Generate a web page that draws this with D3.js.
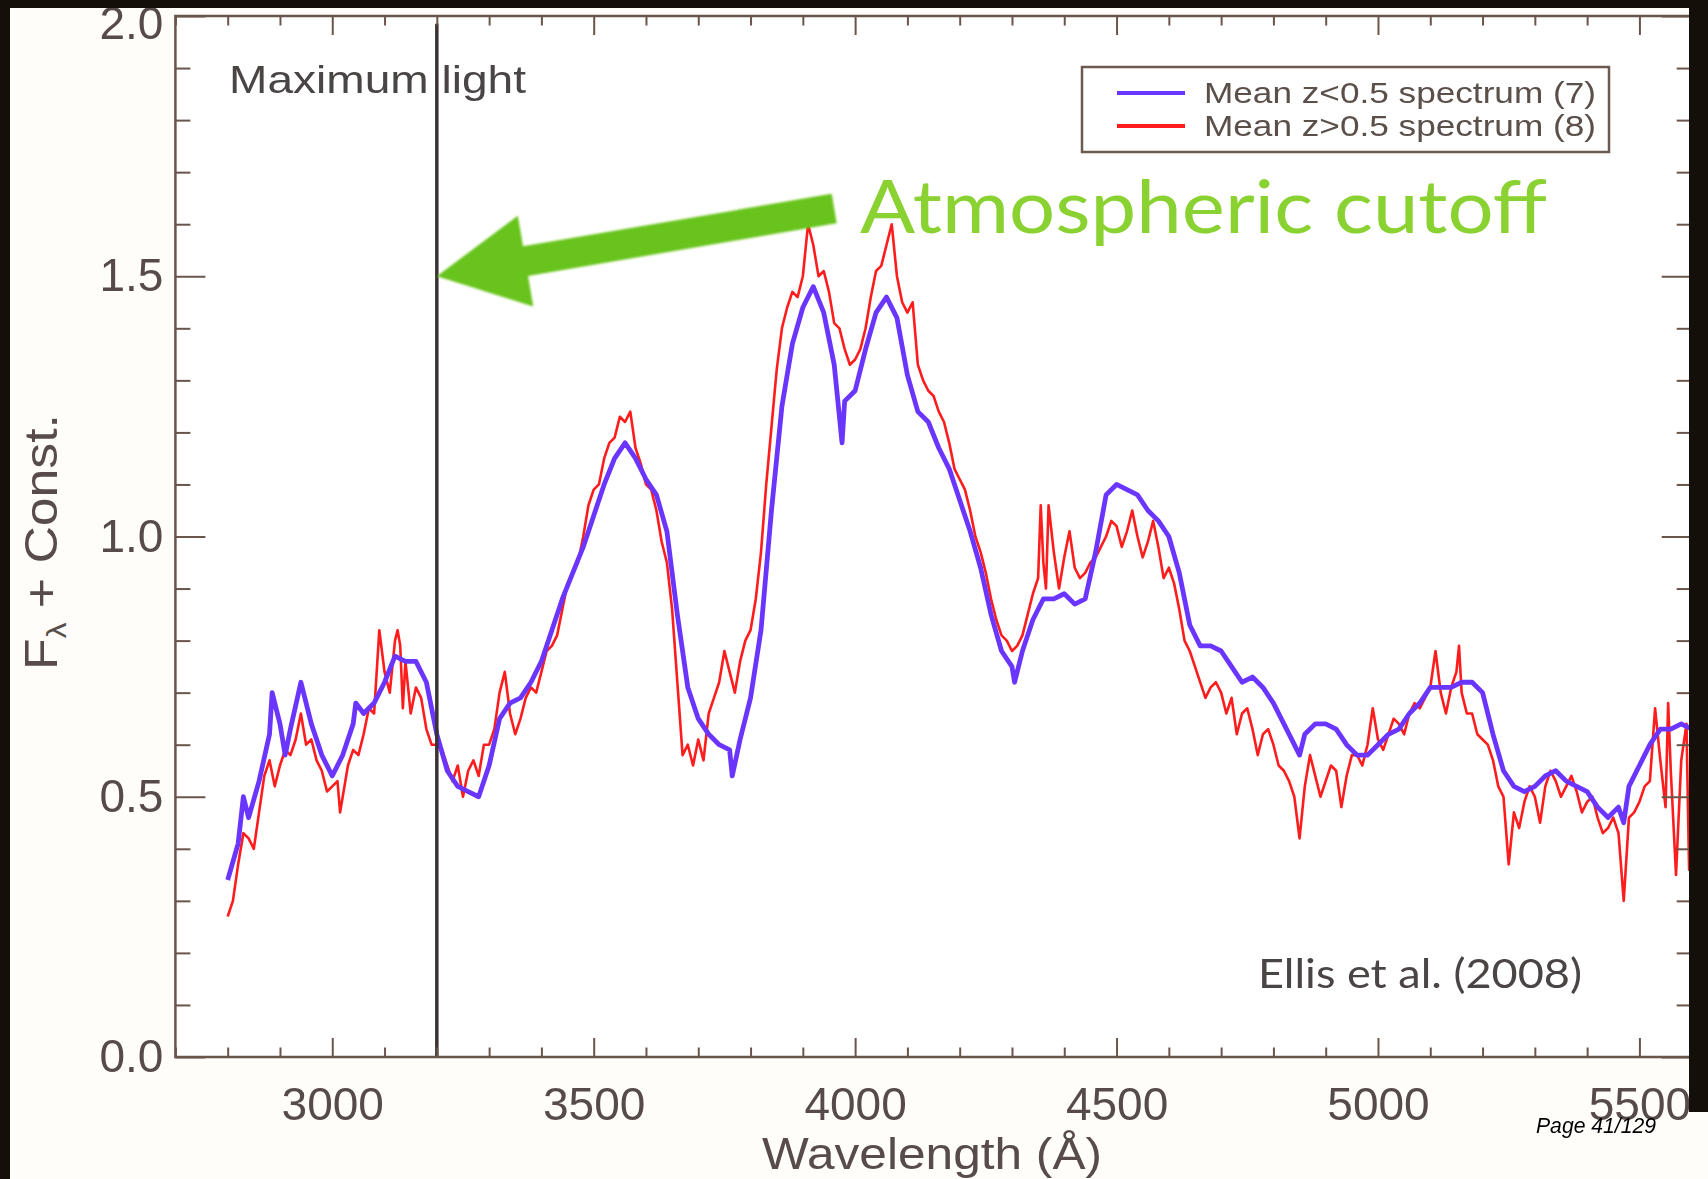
<!DOCTYPE html>
<html>
<head>
<meta charset="utf-8">
<script src="https://cdn.jsdelivr.net/npm/d3@7"></script>
<style>
  body { margin: 0; background: #fffdf9; }
  svg { display: block; }
  text { font-family: "Liberation Sans", Arial, sans-serif; }
</style>
</head>
<body>
<svg width="1708" height="1179"></svg>
<script>
// wavelength grid (Angstrom), 20 A steps
const wavelength = [
  2800,2820,2840,2860,2880,2900,2920,2940,2960,2980,
  3000,3020,3040,3060,3080,3100,3120,3140,3160,3180,
  3200,3220,3240,3260,3280,3300,3320,3340,3360,3380,
  3400,3420,3440,3460,3480,3500,3520,3540,3560,3580,
  3600,3620,3640,3660,3680,3700,3720,3740,3760,3780,
  3800,3820,3840,3860,3880,3900,3920,3940,3960,3980,
  4000,4020,4040,4060,4080,4100,4120,4140,4160,4180,
  4200,4220,4240,4260,4280,4300,4320,4340,4360,4380,
  4400,4420,4440,4460,4480,4500,4520,4540,4560,4580,
  4600,4620,4640,4660,4680,4700,4720,4740,4760,4780,
  4800,4820,4840,4860,4880,4900,4920,4940,4960,4980,
  5000,5020,5040,5060,5080,5100,5120,5140,5160,5180,
  5200,5220,5240,5260,5280,5300,5320,5340,5360,5380,
  5400,5420,5440,5460,5480,5500,5520,5540,5560,5580,
  5600
];

// in-between wavelengths (grid + 10 A), used for the noisier z>0.5 spectrum
const wavelengthMid = [
  2810,2830,2850,2870,2890,2910,2930,2950,2970,2990,
  3010,3030,3050,3070,3090,3110,3130,3150,3170,3190,
  3210,3230,3250,3270,3290,3310,3330,3350,3370,3390,
  3410,3430,3450,3470,3490,3510,3530,3550,3570,3590,
  3610,3630,3650,3670,3690,3710,3730,3750,3770,3790,
  3810,3830,3850,3870,3890,3910,3930,3950,3970,3990,
  4010,4030,4050,4070,4090,4110,4130,4150,4170,4190,
  4210,4230,4250,4270,4290,4310,4330,4350,4370,4390,
  4410,4430,4450,4470,4490,4510,4530,4550,4570,4590,
  4610,4630,4650,4670,4690,4710,4730,4750,4770,4790,
  4810,4830,4850,4870,4890,4910,4930,4950,4970,4990,
  5010,5030,5050,5070,5090,5110,5130,5150,5170,5190,
  5210,5230,5250,5270,5290,5310,5330,5350,5370,5390,
  5410,5430,5450,5470,5490,5510,5530,5550,5570,5590
];

// Mean z<0.5 spectrum (7)
const lowZFlux = [
  0.34,0.41,0.46,0.53,0.62,0.64,0.63,0.72,0.64,0.58,
  0.54,0.58,0.64,0.66,0.68,0.72,0.77,0.76,0.76,0.72,
  0.62,0.55,0.52,0.51,0.50,0.56,0.65,0.68,0.69,0.72,
  0.76,0.82,0.88,0.93,0.98,1.04,1.10,1.15,1.18,1.15,
  1.11,1.08,1.01,0.85,0.71,0.65,0.62,0.60,0.59,0.61,
  0.69,0.82,1.05,1.25,1.37,1.44,1.48,1.43,1.33,1.26,
  1.28,1.36,1.43,1.46,1.42,1.31,1.24,1.22,1.17,1.13,
  1.07,1.01,0.94,0.85,0.78,0.75,0.78,0.84,0.88,0.88,
  0.89,0.87,0.88,0.97,1.08,1.10,1.09,1.08,1.05,1.03,
  1.00,0.93,0.83,0.79,0.79,0.78,0.75,0.72,0.73,0.71,
  0.68,0.64,0.60,0.62,0.64,0.64,0.63,0.60,0.58,0.58,
  0.60,0.62,0.63,0.66,0.68,0.71,0.71,0.71,0.72,0.72,
  0.70,0.62,0.55,0.52,0.51,0.52,0.54,0.55,0.53,0.52,
  0.51,0.48,0.46,0.48,0.52,0.56,0.60,0.63,0.63,0.64,
  0.63
];

// Mean z>0.5 spectrum (8), on the main grid
const highZFlux = [
  0.27,0.37,0.42,0.47,0.57,0.56,0.58,0.66,0.61,0.55,
  0.52,0.50,0.59,0.62,0.66,0.74,0.80,0.76,0.71,0.63,
  0.60,0.56,0.56,0.55,0.54,0.60,0.70,0.66,0.65,0.71,
  0.74,0.79,0.86,0.93,1.00,1.09,1.15,1.19,1.22,1.17,
  1.10,1.05,0.95,0.72,0.60,0.61,0.66,0.72,0.74,0.76,
  0.82,0.97,1.21,1.40,1.47,1.50,1.56,1.51,1.41,1.36,
  1.34,1.40,1.51,1.56,1.50,1.43,1.33,1.28,1.24,1.18,
  1.11,1.05,0.97,0.88,0.81,0.78,0.81,0.89,0.95,0.97,
  0.96,0.94,0.93,0.96,1.00,1.02,1.01,1.00,0.99,0.98,
  0.94,0.86,0.78,0.72,0.71,0.70,0.69,0.66,0.63,0.62,
  0.60,0.55,0.50,0.52,0.54,0.53,0.55,0.54,0.58,0.60,
  0.61,0.62,0.64,0.66,0.67,0.71,0.70,0.71,0.70,0.66,
  0.61,0.57,0.50,0.47,0.49,0.50,0.52,0.53,0.52,0.51,
  0.49,0.46,0.44,0.43,0.46,0.49,0.53,0.57,0.55,0.57,
  0.54
];

// Mean z>0.5 spectrum (8), at the in-between wavelengths
const highZFluxMid = [
  0.30,0.43,0.40,0.54,0.52,0.59,0.61,0.60,0.57,0.51,
  0.53,0.56,0.58,0.67,0.82,0.70,0.79,0.66,0.69,0.60,
  0.59,0.53,0.50,0.57,0.60,0.63,0.74,0.62,0.69,0.70,
  0.78,0.81,0.91,0.95,1.06,1.10,1.18,1.23,1.24,1.14,
  1.09,0.99,0.86,0.58,0.56,0.57,0.69,0.78,0.70,0.80,
  0.88,1.10,1.32,1.44,1.46,1.60,1.50,1.47,1.40,1.33,
  1.36,1.46,1.52,1.60,1.45,1.45,1.30,1.27,1.22,1.13,
  1.09,1.00,0.93,0.84,0.80,0.79,0.85,0.92,1.06,0.90,
  1.01,0.92,0.95,0.98,1.03,0.98,1.05,0.96,1.03,0.92,
  0.91,0.80,0.75,0.69,0.72,0.66,0.62,0.67,0.58,0.63,
  0.56,0.53,0.42,0.58,0.50,0.56,0.48,0.58,0.56,0.67,
  0.59,0.65,0.62,0.68,0.69,0.78,0.66,0.74,0.66,0.62,
  0.60,0.52,0.37,0.44,0.52,0.45,0.55,0.50,0.54,0.47,
  0.50,0.43,0.46,0.30,0.47,0.52,0.67,0.48,0.35,0.64
];

// extra narrow noise spikes [wavelength, flux]
const lowZSpikes = [
  [2830,0.50],[2885,0.70],[2910,0.58],[3045,0.68],[3765,0.54],
  [3975,1.18],[4305,0.72],[4850,0.58],[5470,0.45]
];
const highZSpikes = [
  [3015,0.47],[3125,0.82],[3135,0.67],[4355,1.06],[4365,0.90],
  [5155,0.79],[5165,0.68],[5555,0.68],[5595,0.36]
];

const xMajor = [3000, 3500, 4000, 4500, 5000, 5500];
const xMinor = [2700,2800,2900,3100,3200,3300,3400,3600,3700,3800,3900,
                4100,4200,4300,4400,4600,4700,4800,4900,5100,5200,5300,5400,5600];
const yMajor = [0, 0.5, 1.0, 1.5, 2.0];
const yMinor = [0.1,0.2,0.3,0.4,0.6,0.7,0.8,0.9,1.1,1.2,1.3,1.4,1.6,1.7,1.8,1.9];

const legendLabels = ["Mean z<0.5 spectrum (7)", "Mean z>0.5 spectrum (8)"];
const seriesColors = ["#6a36ff", "#ff1c1c"];

const svg = d3.select("svg");
const x = d3.scaleLinear().domain([2700, 5600]).range([175.4, 1691.7]);
const y = d3.scaleLinear().domain([0, 2]).range([1057, 16]);
const axisColor = "#6a544c";
const labelColor = "#574c4a";

const defs = svg.append("defs");
defs.append("filter").attr("id", "soft")
  .append("feGaussianBlur").attr("stdDeviation", 0.6);
defs.append("filter").attr("id", "softer")
  .append("feGaussianBlur").attr("stdDeviation", 1.3);

// plot area
svg.append("rect")
  .attr("x", x(2700)).attr("y", y(2))
  .attr("width", x(5600) - x(2700)).attr("height", y(0) - y(2))
  .attr("fill", "#ffffff");

// spectra
function series(waves, fluxes, spikes) {
  let pts = [];
  waves.forEach((w, k) => {
    pts = pts.concat(w.map((v, i) => [v, fluxes[k][i]]));
  });
  return pts.concat(spikes).sort((a, b) => a[0] - b[0]);
}
const line = d3.line().x(d => x(d[0])).y(d => y(d[1]));

const data = svg.append("g").attr("filter", "url(#soft)");
data.append("path")
  .attr("d", line(series([wavelength, wavelengthMid], [highZFlux, highZFluxMid], highZSpikes)))
  .attr("fill", "none").attr("stroke", seriesColors[1])
  .attr("stroke-width", 2.6).attr("stroke-linejoin", "round");
data.append("path")
  .attr("d", line(series([wavelength], [lowZFlux], lowZSpikes)))
  .attr("fill", "none").attr("stroke", seriesColors[0])
  .attr("stroke-width", 4.8).attr("stroke-linejoin", "round");

// maximum light marker
svg.append("line")
  .attr("x1", x(3200)).attr("x2", x(3200))
  .attr("y1", y(1.985)).attr("y2", y(0))
  .attr("stroke", "#3b3333").attr("stroke-width", 3.5);

// axes (ticks point inward, IDL style)
function styleAxis(g) {
  g.select(".domain").remove();
  g.selectAll(".tick line").attr("stroke", axisColor).attr("stroke-width", 2);
  g.selectAll(".tick text")
    .attr("fill", labelColor)
    .style("font-size", "46px")
    .style("font-family", "'Liberation Sans', Arial, sans-serif");
}
const axes = svg.append("g").attr("filter", "url(#soft)");
axes.append("g").attr("transform", `translate(0,${y(0)})`)
  .call(d3.axisBottom(x).tickValues(xMajor).tickSize(-19).tickPadding(30).tickFormat(d3.format("d")))
  .call(styleAxis);
axes.append("g").attr("transform", `translate(0,${y(0)})`)
  .call(d3.axisBottom(x).tickValues(xMinor).tickSize(-9.5).tickFormat(""))
  .call(styleAxis);
axes.append("g").attr("transform", `translate(0,${y(2)})`)
  .call(d3.axisTop(x).tickValues(xMajor).tickSize(-19).tickFormat(""))
  .call(styleAxis);
axes.append("g").attr("transform", `translate(0,${y(2)})`)
  .call(d3.axisTop(x).tickValues(xMinor).tickSize(-9.5).tickFormat(""))
  .call(styleAxis);
axes.append("g").attr("transform", `translate(${x(2700)},0)`)
  .call(d3.axisLeft(y).tickValues(yMajor).tickSize(-30).tickPadding(12).tickFormat(d3.format(".1f")))
  .call(styleAxis)
  .selectAll(".tick text").filter(d => d === 2).attr("y", 8);
axes.append("g").attr("transform", `translate(${x(2700)},0)`)
  .call(d3.axisLeft(y).tickValues(yMinor).tickSize(-15).tickFormat(""))
  .call(styleAxis);
axes.append("g").attr("transform", `translate(${x(5600)},0)`)
  .call(d3.axisRight(y).tickValues(yMajor).tickSize(-30).tickFormat(""))
  .call(styleAxis);
axes.append("g").attr("transform", `translate(${x(5600)},0)`)
  .call(d3.axisRight(y).tickValues(yMinor).tickSize(-15).tickFormat(""))
  .call(styleAxis);
axes.append("rect")
  .attr("x", x(2700)).attr("y", y(2))
  .attr("width", x(5600) - x(2700)).attr("height", y(0) - y(2))
  .attr("fill", "none").attr("stroke", axisColor).attr("stroke-width", 2.5);

// axis titles
svg.append("text")
  .attr("x", 932).attr("y", 1169)
  .attr("text-anchor", "middle")
  .attr("textLength", 340).attr("lengthAdjust", "spacingAndGlyphs")
  .attr("fill", labelColor).style("font-size", "44px")
  .text("Wavelength (Å)");

const yTitle = svg.append("text")
  .attr("transform", "translate(57,542) rotate(-90)")
  .attr("text-anchor", "middle")
  .attr("textLength", 256).attr("lengthAdjust", "spacingAndGlyphs")
  .attr("fill", labelColor).style("font-size", "46px");
yTitle.append("tspan").text("F");
yTitle.append("tspan").attr("dy", 9).style("font-size", "28px").text("λ");
yTitle.append("tspan").attr("dy", -9).text(" + Const.");

// annotations
svg.append("text")
  .attr("x", 229).attr("y", 93)
  .attr("textLength", 297).attr("lengthAdjust", "spacingAndGlyphs")
  .attr("fill", "#4a4545").style("font-size", "39px")
  .text("Maximum light");

svg.append("text")
  .attr("x", 1258).attr("y", 988)
  .attr("textLength", 324).attr("lengthAdjust", "spacingAndGlyphs")
  .attr("fill", "#4a4444").style("font-family", "Lato, sans-serif").style("font-size", "40px")
  .text("Ellis et al. (2008)");

// legend
const legend = svg.append("g").attr("filter", "url(#soft)");
legend.append("rect")
  .attr("x", 1082).attr("y", 67).attr("width", 527).attr("height", 85)
  .attr("fill", "#ffffff").attr("stroke", "#6b5a50").attr("stroke-width", 2.5);
legendLabels.forEach((label, i) => {
  const ly = 93 + i * 33;
  legend.append("line")
    .attr("x1", 1117).attr("x2", 1185).attr("y1", ly).attr("y2", ly)
    .attr("stroke", seriesColors[i]).attr("stroke-width", 4);
  legend.append("text")
    .attr("x", 1204).attr("y", ly + 10)
    .attr("textLength", 392).attr("lengthAdjust", "spacingAndGlyphs")
    .attr("fill", "#5a4f4a").style("font-size", "30px")
    .text(label);
});

// green arrow pointing at the cutoff
const arrowFrom = [3960, 1.63], arrowTo = [3200, 1.5];
const p0 = [x(arrowFrom[0]), y(arrowFrom[1])];
const p1 = [x(arrowTo[0]), y(arrowTo[1])];
const len = Math.hypot(p1[0] - p0[0], p1[1] - p0[1]);
const ux = (p1[0] - p0[0]) / len, uy = (p1[1] - p0[1]) / len;
const nx = -uy, ny = ux;
const headLen = 90, headHalf = 46, shaftHalf = 15;
const bx = p1[0] - ux * headLen, by = p1[1] - uy * headLen;
const arrowPts = [
  [p0[0] + nx * shaftHalf, p0[1] + ny * shaftHalf],
  [bx + nx * shaftHalf, by + ny * shaftHalf],
  [bx + nx * headHalf, by + ny * headHalf],
  p1,
  [bx - nx * headHalf, by - ny * headHalf],
  [bx - nx * shaftHalf, by - ny * shaftHalf],
  [p0[0] - nx * shaftHalf, p0[1] - ny * shaftHalf]
];
svg.append("path")
  .attr("d", "M" + arrowPts.map(p => p.join(",")).join("L") + "Z")
  .attr("fill", "#68c41a").attr("filter", "url(#softer)");

svg.append("text")
  .attr("x", 860).attr("y", 233)
  .attr("textLength", 687).attr("lengthAdjust", "spacingAndGlyphs")
  .attr("fill", "#8ad132").style("font-family", "Lato, sans-serif").style("font-size", "74px")
  .text("Atmospheric cutoff");

svg.append("text")
  .attr("x", 1536).attr("y", 1133)
  .attr("textLength", 120).attr("lengthAdjust", "spacingAndGlyphs")
  .attr("fill", "#000000")
  .style("font-family", "'Liberation Sans Narrow', 'Liberation Sans', sans-serif")
  .style("font-style", "italic").style("font-size", "22px")
  .text("Page 41/129");

// dark screen border
svg.append("rect").attr("x", 0).attr("y", 0).attr("width", 1708).attr("height", 8).attr("fill", "#150f0a");
svg.append("rect").attr("x", 0).attr("y", 0).attr("width", 10).attr("height", 1179).attr("fill", "#150f0a");
svg.append("rect").attr("x", 1689).attr("y", 0).attr("width", 19).attr("height", 1112).attr("fill", "#150f0a");
</script>
</body>
</html>
